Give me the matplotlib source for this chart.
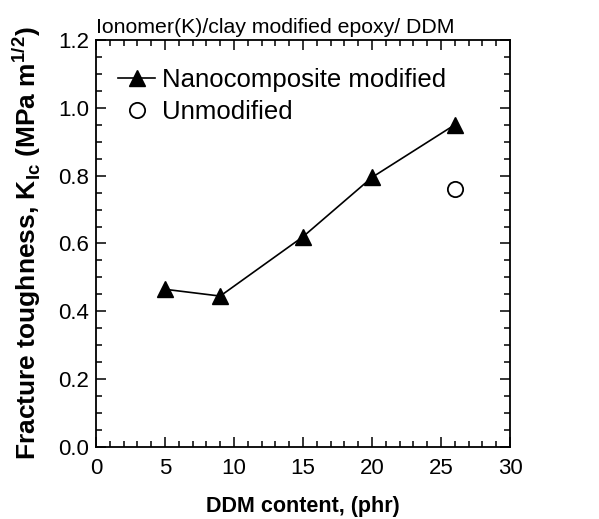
import matplotlib
matplotlib.use("Agg")
import matplotlib.pyplot as plt
from matplotlib.ticker import MultipleLocator

plt.rcParams['font.family'] = ['Liberation Sans', 'DejaVu Sans']
plt.rcParams['mathtext.fontset'] = 'custom'
plt.rcParams['mathtext.rm'] = 'Liberation Sans'
plt.rcParams['mathtext.bf'] = 'Liberation Sans:bold'

ddm_mod = [5, 9, 15, 20, 26]
kic_mod = [0.465, 0.445, 0.62, 0.795, 0.95]
ddm_unmod = [26]
kic_unmod = [0.76]

fig = plt.figure(figsize=(5.99, 5.19), dpi=100)
ax = fig.add_axes([96/599, 1 - 447/519, (510-96)/599, (447-40)/519])

ax.plot(ddm_mod, kic_mod, '-^', color='black', lw=1.2, ms=11, label='Nanocomposite modified')
ax.plot(ddm_unmod, kic_unmod, 'o', mfc='white', mec='black', mew=1.3, ms=11, ls='none', label='Unmodified')

ax.set_xlim(0, 30)
ax.set_ylim(0, 1.2)
ax.xaxis.set_major_locator(MultipleLocator(5))
ax.xaxis.set_minor_locator(MultipleLocator(1))
ax.yaxis.set_major_locator(MultipleLocator(0.2))
ax.yaxis.set_minor_locator(MultipleLocator(0.05))
ax.yaxis.set_major_formatter(plt.FuncFormatter(lambda v, p: f"{v:.1f}"))
ax.tick_params(which='both', direction='in', top=True, right=True, labelsize=16, width=1.1)
ax.tick_params(which='major', length=7)
ax.tick_params(which='minor', length=4)
ax.tick_params(axis='x', which='major', pad=8)
ax.tick_params(axis='y', which='major', pad=5)
for s in ax.spines.values():
    s.set_linewidth(1.3)

ax.set_xlabel('DDM content, (phr)', fontsize=15.5, fontweight='bold', labelpad=12)
ax.set_ylabel(r'Fracture toughness, K$_{\mathbf{Ic}}$ (MPa m$^{\mathbf{1/2}}$)', fontsize=19, fontweight='bold', labelpad=11)
ax.set_title('Ionomer(K)/clay modified epoxy/ DDM', loc='left', fontsize=15.3, pad=5)

ax.legend(loc='upper left', frameon=False, fontsize=18.5, handlelength=1.45, handletextpad=0.25,
          labelspacing=0.3, borderaxespad=0, borderpad=0, bbox_to_anchor=(0.053, 0.93))

fig.savefig('out.png', dpi=100)
